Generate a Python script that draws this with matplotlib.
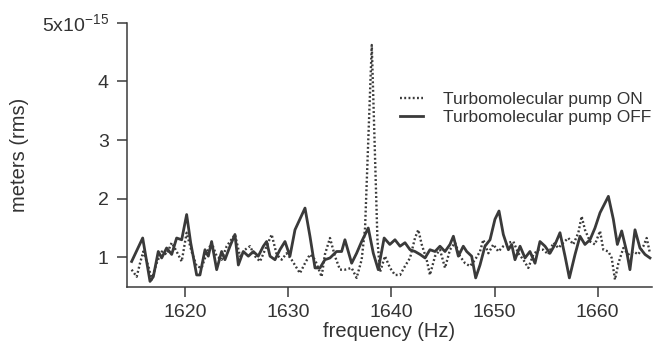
import matplotlib

matplotlib.use("Agg")
import matplotlib.pyplot as plt

# frequency (Hz) / amplitude (x1e-15 m rms)
freq_on = [
    1614.83, 1615.32, 1615.64, 1615.96, 1616.45, 1616.77, 1617.25, 1617.74, 1618.22, 1618.71,
    1619.19, 1619.68, 1620.16, 1620.64, 1621.13, 1621.61, 1622.10, 1622.58, 1623.07, 1623.55,
    1624.04, 1624.84, 1625.33, 1625.81, 1626.30, 1626.78, 1627.27, 1627.91, 1628.40, 1628.88,
    1629.37, 1629.85, 1630.33, 1631.14, 1631.63, 1632.11, 1632.60, 1633.24, 1633.56, 1634.05,
    1634.53, 1635.02, 1635.50, 1636.15, 1636.63, 1637.12, 1637.45, 1638.10, 1638.65, 1638.90,
    1639.38, 1639.87, 1640.35, 1640.84, 1641.32, 1641.81, 1642.29, 1642.61, 1642.94, 1643.42,
    1643.74, 1644.23, 1644.71, 1645.20, 1645.68, 1646.17, 1646.65, 1647.14, 1647.62, 1648.11,
    1648.59, 1648.91, 1649.40, 1649.88, 1650.37, 1650.85, 1651.34, 1651.82, 1652.30, 1652.79,
    1653.27, 1653.76, 1654.24, 1654.73, 1655.21, 1655.70, 1656.18, 1656.66, 1657.15, 1657.63,
    1658.12, 1658.44, 1658.76, 1659.25, 1659.73, 1660.22, 1660.54, 1661.03, 1661.35, 1661.67,
    1662.00, 1662.48, 1662.96, 1663.45, 1663.93, 1664.42, 1664.74, 1665.06,
]
amp_on = [
    0.79, 0.67, 0.90, 1.10, 0.85, 0.62, 0.90, 1.10, 1.05, 1.25,
    1.10, 0.93, 1.42, 1.10, 0.85, 0.82, 1.07, 1.25, 1.02, 0.96,
    1.19, 1.39, 1.02, 1.13, 1.19, 1.02, 0.93, 1.19, 1.39, 1.05,
    0.96, 1.07, 0.96, 0.73, 0.90, 1.05, 0.96, 0.67, 1.05, 1.33,
    1.02, 0.79, 0.79, 0.82, 0.65, 0.96, 1.50, 4.62, 1.30, 0.75,
    1.02, 0.82, 0.70, 0.70, 0.85, 0.99, 1.33, 1.47, 1.22, 0.96,
    0.70, 1.02, 1.13, 0.82, 1.13, 1.25, 1.02, 0.90, 0.85, 0.96,
    1.10, 1.30, 1.07, 1.22, 1.10, 1.19, 1.25, 1.27, 1.07, 0.96,
    0.82, 1.05, 1.13, 1.13, 1.05, 1.25, 1.16, 1.25, 1.33, 1.22,
    1.42, 1.70, 1.47, 1.27, 1.22, 1.45, 1.13, 1.10, 0.99, 0.62,
    0.90, 1.16, 1.05, 1.10, 1.05, 1.19, 1.33, 1.07,
]

freq_off = [
    1614.83, 1615.90, 1616.61, 1616.93, 1617.41, 1617.74, 1618.22, 1618.71, 1619.19, 1619.68,
    1620.16, 1620.55, 1621.13, 1621.45, 1621.94, 1622.26, 1622.58, 1623.07, 1623.55, 1623.87,
    1624.36, 1624.84, 1625.17, 1625.65, 1626.14, 1626.62, 1627.10, 1627.59, 1627.91, 1628.24,
    1628.72, 1629.20, 1629.69, 1630.17, 1630.66, 1631.63, 1632.11, 1632.60, 1633.08, 1633.56,
    1634.05, 1634.69, 1635.18, 1635.50, 1636.15, 1636.63, 1637.12, 1637.76, 1638.25, 1638.73,
    1639.30, 1639.85, 1640.35, 1640.84, 1641.32, 1641.81, 1642.29, 1642.78, 1643.26, 1643.74,
    1644.23, 1644.71, 1645.20, 1645.68, 1646.01, 1646.49, 1646.97, 1647.30, 1647.78, 1648.17,
    1648.59, 1649.07, 1649.56, 1650.04, 1650.43, 1650.85, 1651.34, 1651.66, 1651.98, 1652.47,
    1652.95, 1653.43, 1653.92, 1654.40, 1654.89, 1655.37, 1655.86, 1656.34, 1656.83, 1657.25,
    1657.80, 1658.28, 1658.76, 1659.25, 1659.73, 1660.22, 1661.03, 1661.51, 1661.90, 1662.32,
    1662.80, 1663.12, 1663.61, 1664.09, 1664.58, 1665.06,
]
amp_off = [
    0.93, 1.33, 0.59, 0.67, 1.10, 0.99, 1.16, 1.05, 1.33, 1.30,
    1.73, 1.25, 0.70, 0.70, 1.13, 1.02, 1.27, 0.79, 1.10, 0.96,
    1.19, 1.39, 0.87, 1.10, 1.02, 1.10, 1.02, 1.19, 1.27, 1.02,
    0.96, 1.13, 1.27, 1.02, 1.47, 1.84, 1.36, 0.82, 0.82, 0.96,
    0.99, 1.10, 1.10, 1.30, 0.90, 1.07, 1.27, 1.50, 1.07, 0.79,
    1.33, 1.22, 1.30, 1.19, 1.25, 1.13, 1.10, 1.05, 0.99, 1.13,
    1.10, 1.19, 1.10, 1.22, 1.36, 1.02, 1.19, 1.10, 1.02, 0.65,
    0.87, 1.19, 1.30, 1.65, 1.79, 1.39, 1.13, 1.22, 0.96, 1.19,
    0.99, 1.10, 0.90, 1.27, 1.19, 1.07, 1.22, 1.42, 1.02, 0.65,
    1.05, 1.36, 1.22, 1.30, 1.50, 1.76, 2.04, 1.65, 1.22, 1.45,
    1.10, 0.79, 1.47, 1.16, 1.05, 0.99,
]

y_ticks = [1, 2, 3, 4, 5]
y_ticklabels = ["1", "2", "3", "4", r"5x10$^{\mathregular{-15}}$"]
x_ticks = [1620, 1630, 1640, 1650, 1660]

ink = "#3a3a3a"
text_color = "#333333"
plt.rcParams["font.family"] = ["Liberation Sans", "DejaVu Sans"]
plt.rcParams["mathtext.fontset"] = "custom"
plt.rcParams["mathtext.rm"] = "Liberation Sans"

fig = plt.figure(figsize=(6.64, 3.62), dpi=100)
ax = fig.add_axes([0.1908, 0.2064, 0.7907, 0.7309])

ax.plot(freq_on, amp_on, color=ink, lw=1.7, linestyle=(0, (0.8, 1.0)),
        dash_capstyle="butt", label="Turbomolecular pump ON")
ax.plot(freq_off, amp_off, color=ink, lw=2.0, label="Turbomolecular pump OFF")

ax.set_xlim(1614.35, 1665.23)
ax.set_ylim(0.49, 5.0)
ax.set_xticks(x_ticks)
ax.set_yticks(y_ticks)
ax.set_yticklabels(y_ticklabels)

for side in ("top", "right"):
    ax.spines[side].set_visible(False)
for side in ("left", "bottom"):
    ax.spines[side].set_color(ink)
    ax.spines[side].set_linewidth(1.1)

ax.tick_params(axis="both", direction="out", length=7, width=1.1, color=ink,
               labelcolor=text_color, labelsize=14)
ax.tick_params(axis="y", pad=6)
ax.tick_params(axis="x", pad=5)

ax.set_xlabel("frequency (Hz)", fontsize=14.5, color=text_color, labelpad=1)
ax.set_ylabel("meters (rms)", fontsize=14.5, color=text_color, labelpad=9)

fig.legend(loc="upper left", bbox_to_anchor=(0.6024, 0.745), frameon=False,
           fontsize=12.5, handlelength=1.3, handletextpad=1.2, labelspacing=0.15,
           borderpad=0, borderaxespad=0, labelcolor=text_color)

fig.savefig("out.png", dpi=100)
